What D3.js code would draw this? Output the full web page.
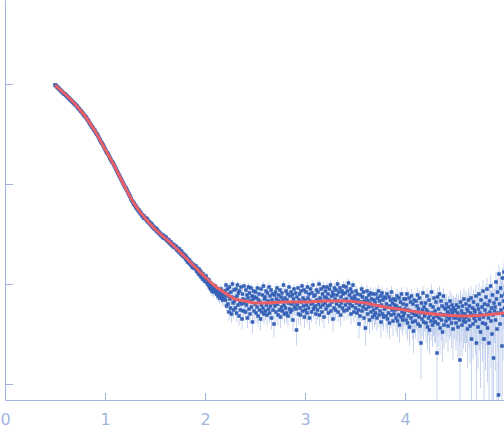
<!DOCTYPE html>
<html>
<head>
<meta charset="utf-8">
<script src="https://cdn.jsdelivr.net/npm/d3@7"></script>
<style>
  body { margin: 0; background: #fff; }
  .axis path, .axis line { stroke: #9fb3de; }
  .axis text { fill: #a3b6df; font-family: "DejaVu Sans", sans-serif; font-size: 16px; }
</style>
</head>
<body>
<div id="chart"></div>
<script>
// q grid of the scattering curve (nm^-1)
var qStart = 0.5, qStep = 0.005;

// log10 intensity of each measured point, 20 points per row (0.1 in q)
var logI = [
  2.99,2.99,2.98,2.98,2.97,2.97,2.96,2.96,2.95,2.95,2.94,2.94,2.93,2.93,2.92,2.92,2.91,2.91,2.90,2.90,
  2.90,2.89,2.89,2.88,2.88,2.87,2.87,2.86,2.86,2.85,2.85,2.84,2.84,2.83,2.83,2.82,2.82,2.81,2.81,2.80,
  2.80,2.79,2.79,2.78,2.78,2.77,2.76,2.76,2.75,2.75,2.74,2.73,2.73,2.72,2.72,2.71,2.70,2.70,2.69,2.68,
  2.68,2.67,2.67,2.66,2.65,2.64,2.64,2.63,2.62,2.61,2.60,2.60,2.59,2.58,2.57,2.57,2.56,2.55,2.54,2.54,
  2.53,2.52,2.51,2.50,2.50,2.49,2.48,2.47,2.46,2.45,2.44,2.43,2.42,2.41,2.41,2.40,2.39,2.38,2.37,2.36,
  2.35,2.34,2.33,2.32,2.31,2.31,2.30,2.29,2.28,2.27,2.26,2.25,2.24,2.23,2.22,2.22,2.21,2.20,2.19,2.18,
  2.17,2.16,2.15,2.14,2.13,2.12,2.11,2.10,2.09,2.08,2.07,2.06,2.05,2.04,2.03,2.02,2.01,2.00,1.99,1.98,
  1.97,1.96,1.96,1.94,1.94,1.92,1.92,1.90,1.90,1.88,1.88,1.87,1.85,1.85,1.83,1.83,1.82,1.80,1.81,1.79,
  1.79,1.77,1.78,1.76,1.75,1.76,1.74,1.73,1.74,1.72,1.71,1.72,1.70,1.70,1.68,1.69,1.68,1.66,1.68,1.66,
  1.66,1.65,1.66,1.64,1.63,1.65,1.62,1.63,1.61,1.62,1.60,1.61,1.59,1.58,1.60,1.57,1.58,1.56,1.57,1.55,
  1.55,1.56,1.54,1.53,1.55,1.52,1.53,1.51,1.52,1.50,1.51,1.49,1.50,1.48,1.49,1.47,1.49,1.46,1.48,1.46,
  1.46,1.45,1.47,1.44,1.45,1.43,1.44,1.42,1.44,1.41,1.42,1.40,1.42,1.39,1.40,1.38,1.40,1.37,1.39,1.37,
  1.37,1.36,1.38,1.35,1.34,1.36,1.33,1.34,1.32,1.35,1.31,1.32,1.30,1.33,1.29,1.31,1.28,1.30,1.27,1.29,
  1.27,1.25,1.28,1.24,1.26,1.22,1.25,1.23,1.21,1.24,1.20,1.22,1.19,1.21,1.17,1.20,1.18,1.16,1.19,1.17,
  1.17,1.15,1.18,1.13,1.16,1.12,1.14,1.10,1.15,1.11,1.09,1.13,1.07,1.11,1.08,1.05,1.10,1.06,1.08,1.03,
  1.07,1.04,1.08,1.02,1.05,1.00,1.03,0.99,1.04,0.97,1.01,0.95,1.00,0.98,0.93,0.99,0.96,0.92,0.98,0.94,
  0.98,0.93,0.96,0.90,0.95,0.92,0.88,0.94,0.91,0.86,0.93,0.89,0.95,0.87,0.90,0.84,0.92,0.88,0.85,0.91,
  0.93,0.84,0.99,0.78,0.88,0.95,0.80,0.90,0.72,0.97,0.85,0.76,0.92,0.70,0.87,1.00,0.81,0.74,0.94,0.83,
  0.86,0.76,0.95,0.71,0.88,0.99,0.79,0.91,0.68,0.93,0.82,0.74,0.97,0.80,0.65,0.90,0.85,0.73,0.98,0.81,
  0.84,0.72,0.94,0.79,0.89,0.66,0.86,0.97,0.75,0.91,0.70,0.83,0.96,0.77,0.88,0.62,0.85,0.93,0.73,0.87,
  0.80,0.92,0.71,0.86,0.77,0.96,0.68,0.84,0.90,0.74,0.82,0.65,0.95,0.79,0.72,0.89,0.76,0.98,0.70,0.85,
  0.87,0.73,0.93,0.79,0.69,0.91,0.83,0.75,0.97,0.71,0.88,0.78,0.94,0.66,0.84,0.90,0.74,0.81,0.60,0.89,
  0.78,0.92,0.72,0.85,0.96,0.80,0.69,0.89,0.83,0.74,0.94,0.67,0.87,0.77,0.91,0.73,0.84,0.99,0.79,0.70,
  0.86,0.76,0.93,0.71,0.84,0.90,0.68,0.81,0.97,0.75,0.88,0.72,0.92,0.80,0.74,0.89,0.64,0.85,0.95,0.77,
  0.81,0.91,0.75,0.54,0.87,0.79,0.96,0.70,0.84,0.90,0.76,0.69,0.93,0.82,0.98,0.73,0.86,0.78,0.94,0.67,
  0.84,0.74,0.92,0.79,0.71,0.97,0.86,0.76,0.90,0.66,0.83,0.95,0.80,0.72,0.91,0.81,0.99,0.75,0.88,0.77,
  0.89,0.78,0.70,0.94,0.84,0.74,0.92,0.80,1.00,0.69,0.86,0.77,0.95,0.83,0.72,0.90,0.79,0.97,0.67,0.87,
  0.81,0.93,0.75,0.86,0.97,0.78,0.90,0.71,0.84,0.95,0.79,0.99,0.73,0.88,0.82,0.92,0.65,0.89,0.76,0.96,
  0.85,0.74,0.94,0.80,0.89,1.00,0.72,0.83,0.92,0.78,0.96,0.69,0.87,0.81,0.93,0.76,0.90,0.98,0.73,0.84,
  0.91,0.79,0.97,0.85,0.74,0.93,0.82,1.01,0.76,0.89,0.80,0.95,0.70,0.86,0.92,0.78,0.99,0.83,0.72,0.88,
  0.85,0.76,0.93,0.81,0.71,0.90,0.84,0.74,0.60,0.79,0.68,0.89,0.82,0.95,0.73,0.87,0.77,0.92,0.66,0.83,
  0.80,0.56,0.75,0.86,0.93,0.70,0.83,0.77,0.89,0.64,0.81,0.91,0.72,0.85,0.78,0.67,0.90,0.74,0.84,0.69,
  0.82,0.71,0.90,0.76,0.66,0.86,0.78,0.93,0.69,0.83,0.73,0.88,0.62,0.79,0.91,0.70,0.84,0.67,0.87,0.75,
  0.76,0.86,0.68,0.80,0.90,0.65,0.77,0.71,0.87,0.61,0.78,0.84,0.69,0.92,0.74,0.81,0.63,0.85,0.70,0.79,
  0.74,0.84,0.66,0.78,0.88,0.63,0.75,0.69,0.86,0.59,0.76,0.82,0.67,0.90,0.72,0.64,0.80,0.68,0.85,0.71,
  0.75,0.85,0.64,0.79,0.90,0.61,0.74,0.68,0.86,0.57,0.73,0.82,0.66,0.88,0.71,0.62,0.80,0.53,0.84,0.69,
  0.72,0.63,0.83,0.69,0.78,0.89,0.60,0.75,0.67,0.86,0.58,0.71,0.41,0.81,0.65,0.74,0.91,0.62,0.77,0.68,
  0.70,0.81,0.61,0.74,0.88,0.57,0.72,0.66,0.84,0.54,0.69,0.79,0.63,0.92,0.71,0.59,0.77,0.66,0.86,0.62,
  0.73,0.62,0.82,0.68,0.31,0.87,0.60,0.75,0.66,0.90,0.56,0.70,0.83,0.64,0.78,0.52,0.69,0.88,0.59,0.76,
  0.69,0.75,0.63,0.80,0.67,0.72,0.58,0.77,0.70,0.65,0.83,0.68,0.74,0.61,0.79,0.71,0.55,0.76,0.66,0.73,
  0.68,0.74,0.61,0.79,0.66,0.71,0.57,0.77,0.69,0.64,0.24,0.82,0.67,0.73,0.59,0.78,0.70,0.63,0.85,0.66,
  0.70,0.62,0.80,0.67,0.75,0.55,0.73,0.84,0.64,0.78,0.58,0.71,0.86,0.45,0.69,0.76,0.60,0.82,0.66,0.74,
  0.72,0.63,0.88,0.41,0.68,0.79,0.57,0.75,0.90,0.65,0.71,0.52,0.84,0.69,0.77,0.61,0.93,0.67,0.45,0.80,
  0.74,0.60,0.87,0.70,0.95,0.56,0.79,0.66,0.41,0.83,0.72,0.98,0.63,0.76,0.50,0.89,0.69,0.26,0.81,0.73,
  0.77,0.64,1.02,0.85,0.55,0.92,0.71,-0.11,1.10,0.80,0.60,0.96,0.74,0.88,0.38,1.06,0.69,0.83,1.12,0.76,
  0.90
];

// intensity error (linear units), one value per 10 points (0.05 in q)
var sigma = [
  3.0,2.8,2.6,2.4,2.2,2.0,1.8,1.6,1.5,1.4,
  1.3,1.2,1.1,1.0,0.9,0.85,0.8,0.8,0.8,0.8,
  0.8,0.8,0.8,0.8,0.8,0.8,0.8,0.8,0.8,0.8,
  0.95,0.95,0.95,0.95,0.95,0.95,0.95,0.95,0.95,0.95,
  1.05,1.05,1.05,1.05,1.05,1.05,1.05,1.05,1.05,1.05,
  1.1,1.1,1.1,1.1,1.1,1.1,1.1,1.1,1.1,1.1,
  1.15,1.15,1.2,1.2,1.2,1.25,1.25,1.25,1.3,1.3,
  1.3,1.35,1.4,1.45,1.5,1.55,1.6,1.65,1.7,1.8,
  1.9,2.0,2.1,2.2,2.3,2.4,2.6,2.8,3.0,3.2,
  3.4
];

// fitted model curve
var fitQ = [0.5,0.6,0.7,0.8,0.9,1.0,1.1,1.2,1.3,1.4,1.5,1.6,1.7,1.8,1.9,2.0,2.1,2.2,2.3,2.4,2.5,2.6,2.8,3.0,3.2,3.4,3.6,3.8,4.0,4.2,4.4,4.6,4.8,5.0];
var fitLogI = [2.99,2.90,2.80,2.68,2.53,2.35,2.17,1.97,1.79,1.66,1.55,1.46,1.37,1.27,1.17,1.07,0.98,0.91,0.85,0.83,0.81,0.81,0.82,0.82,0.83,0.83,0.81,0.77,0.74,0.71,0.69,0.68,0.69,0.71];

var xTicks = [0, 1, 2, 3, 4];
var yTicks = [0, 1, 2, 3];

var margin = {top: 0, right: 0, bottom: 38, left: 5};
var width = 500;
var height = 400;

var svg = d3.select("#chart").append("svg")
  .attr("width", 504)
  .attr("height", 438)
  .append("g")
  .attr("transform", "translate(" + margin.left + "," + margin.top + ")");

var x = d3.scaleLinear().domain([0, 5]).range([0, width]);
var y = d3.scaleLinear().domain([-0.16, 3.84]).range([height, 0]);

svg.append("clipPath").attr("id", "plot-clip")
  .append("rect").attr("x", 0).attr("y", 0).attr("width", width).attr("height", height);

var data = logI.map(function (v, i) {
  var I = Math.pow(10, v);
  var s = sigma[Math.min(Math.floor(i / 10), sigma.length - 1)];
  return {q: qStart + i * qStep, v: v, hi: Math.log10(I + s), lo: I - s > 0 ? Math.log10(I - s) : null};
});

var plot = svg.append("g").attr("clip-path", "url(#plot-clip)");

// error bars
plot.selectAll(".err")
  .data(data)
  .enter().append("line")
  .attr("class", "err")
  .attr("x1", function (d) { return x(d.q); })
  .attr("x2", function (d) { return x(d.q); })
  .attr("y1", function (d) { return y(d.hi); })
  .attr("y2", function (d) { return d.lo === null ? height : y(d.lo); })
  .attr("stroke", "#c6d3ee")
  .attr("stroke-width", 1);

// points
plot.selectAll(".pt")
  .data(data)
  .enter().append("rect")
  .attr("class", "pt")
  .attr("x", function (d) { return x(d.q) - 1.75; })
  .attr("y", function (d) { return y(d.v) - 1.75; })
  .attr("width", 3.5)
  .attr("height", 3.5)
  .attr("fill", "#3562b6");

// fit line
var line = d3.line()
  .x(function (d, i) { return x(fitQ[i]); })
  .y(function (d) { return y(d); })
  .curve(d3.curveMonotoneX);

plot.append("path")
  .datum(fitLogI)
  .attr("d", line)
  .attr("fill", "none")
  .attr("stroke", "#ea5f66")
  .attr("stroke-width", 3);

// axes
svg.append("g")
  .attr("class", "x axis")
  .attr("transform", "translate(0," + height + ")")
  .call(d3.axisBottom(x).tickValues(xTicks).tickSize(-7).tickSizeOuter(0).tickPadding(14).tickFormat(d3.format("d")));

svg.append("g")
  .attr("class", "y axis")
  .call(d3.axisLeft(y).tickValues(yTicks).tickSize(-8).tickSizeOuter(0).tickFormat(""));

svg.selectAll(".axis .domain").attr("stroke", "#9fb3de");
</script>
</body>
</html>
